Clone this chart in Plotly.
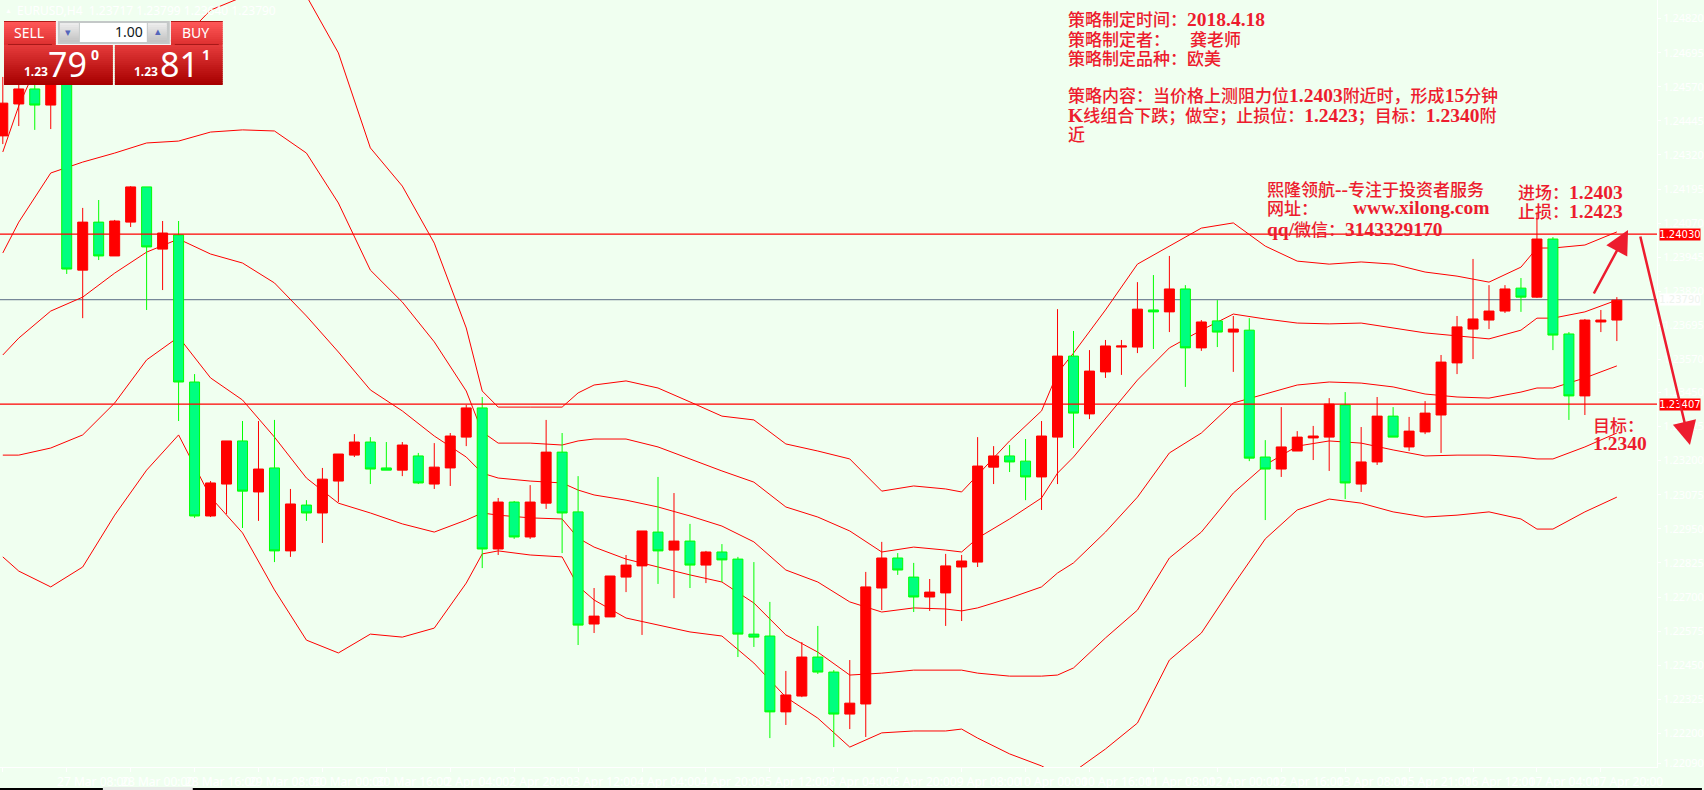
import re
import plotly.graph_objects as go

OPEN = [1.24390,1.24507,1.24562,1.24503,1.24595,1.23898,1.24074,1.23950,1.24074,1.24203,1.23975,1.24027,1.23488,1.22997,1.23114,1.23272,1.23085,1.23173,1.22869,1.23037,1.23008,1.23125,1.23220,1.23268,1.23173,1.23165,1.23217,1.23114,1.23173,1.23286,1.23393,1.22876,1.23048,1.22920,1.23044,1.23231,1.23012,1.22601,1.22627,1.22773,1.22814,1.22938,1.22872,1.22905,1.22817,1.22865,1.22839,1.22564,1.22557,1.22279,1.22337,1.22480,1.22425,1.22271,1.22308,1.22733,1.22843,1.22773,1.22700,1.22715,1.22810,1.22828,1.23176,1.23217,1.23198,1.23140,1.23286,1.23583,1.23371,1.23525,1.23616,1.23616,1.23752,1.23745,1.23829,1.23613,1.23712,1.23671,1.23678,1.23213,1.23169,1.23235,1.23283,1.23286,1.23404,1.23114,1.23195,1.23363,1.23250,1.23305,1.23367,1.23558,1.23682,1.23715,1.23748,1.23832,1.23799,1.24012,1.23664,1.23437,1.23708,1.23715]
HIGH = [1.24606,1.24624,1.24595,1.24609,1.24620,1.24126,1.24155,1.24082,1.24206,1.24203,1.24078,1.24078,1.23517,1.23125,1.23272,1.23345,1.23345,1.23349,1.23096,1.23055,1.23173,1.23224,1.23297,1.23286,1.23268,1.23268,1.23228,1.23264,1.23301,1.23404,1.23433,1.23063,1.23052,1.23110,1.23349,1.23301,1.23143,1.22733,1.22777,1.22854,1.22942,1.23140,1.23081,1.22968,1.22869,1.22894,1.22847,1.22828,1.22682,1.22429,1.22535,1.22594,1.22432,1.22469,1.22792,1.22902,1.22861,1.22825,1.22766,1.22858,1.22854,1.23286,1.23253,1.23257,1.23279,1.23345,1.23755,1.23675,1.23605,1.23642,1.23642,1.23854,1.23880,1.23950,1.23843,1.23715,1.23788,1.23730,1.23722,1.23275,1.23396,1.23308,1.23327,1.23429,1.23451,1.23323,1.23433,1.23396,1.23360,1.23418,1.23587,1.23730,1.23939,1.23843,1.23843,1.23869,1.24107,1.24019,1.23671,1.23719,1.23752,1.23799]
LOW = [1.24360,1.24426,1.24412,1.24415,1.23884,1.23722,1.23935,1.23950,1.24056,1.23752,1.23825,1.23345,1.22990,1.22993,1.23004,1.22953,1.22979,1.22828,1.22847,1.22979,1.22898,1.23048,1.23213,1.23114,1.23165,1.23143,1.23114,1.23096,1.23107,1.23253,1.22806,1.22854,1.22913,1.22913,1.23023,1.22861,1.22524,1.22568,1.22627,1.22718,1.22561,1.22748,1.22696,1.22733,1.22751,1.22755,1.22480,1.22517,1.22183,1.22231,1.22333,1.22418,1.22150,1.22216,1.22187,1.22652,1.22781,1.22645,1.22649,1.22594,1.22612,1.22810,1.23114,1.23158,1.23055,1.23019,1.23114,1.23246,1.23352,1.23503,1.23514,1.23594,1.23609,1.23671,1.23470,1.23602,1.23616,1.23525,1.23198,1.22982,1.23140,1.23235,1.23202,1.23162,1.23059,1.23085,1.23184,1.23286,1.23235,1.23297,1.23228,1.23517,1.23572,1.23682,1.23741,1.23745,1.23796,1.23605,1.23349,1.23367,1.23671,1.23638]
CLOSE = [1.24510,1.24562,1.24503,1.24595,1.23902,1.24074,1.23950,1.24078,1.24203,1.23983,1.24034,1.23488,1.22997,1.23118,1.23272,1.23088,1.23169,1.22869,1.23041,1.23008,1.23132,1.23224,1.23268,1.23169,1.23165,1.23257,1.23118,1.23176,1.23290,1.23393,1.22876,1.23048,1.22920,1.23048,1.23231,1.23008,1.22597,1.22630,1.22777,1.22817,1.22942,1.22869,1.22905,1.22817,1.22865,1.22836,1.22564,1.22553,1.22279,1.22341,1.22480,1.22425,1.22271,1.22311,1.22737,1.22843,1.22799,1.22700,1.22718,1.22814,1.22832,1.23180,1.23217,1.23195,1.23140,1.23290,1.23583,1.23374,1.23528,1.23620,1.23620,1.23755,1.23745,1.23829,1.23613,1.23708,1.23671,1.23682,1.23209,1.23169,1.23250,1.23286,1.23290,1.23407,1.23118,1.23195,1.23363,1.23286,1.23308,1.23374,1.23561,1.23690,1.23719,1.23748,1.23829,1.23799,1.24012,1.23660,1.23437,1.23715,1.23715,1.23788]

BAND_IDX = [0,1,3,5,7,9,11,13,15,17,19,21,23,25,27,29,30,31,33,35,36,37,39,41,43,45,47,49,51,53,55,57,59,60,61,63,65,66,67,69,71,73,75,77,79,81,83,85,87,89,91,93,95,96,97,99,101]
BAND_A = [1.24331,1.24500,1.24760,1.24789,1.24767,1.24763,1.24730,1.24851,1.24899,1.24965,1.24903,1.24694,1.24346,1.24206,1.23997,1.23686,1.23455,1.23396,1.23396,1.23396,1.23448,1.23477,1.23492,1.23466,1.23415,1.23363,1.23349,1.23261,1.23235,1.23206,1.23088,1.23107,1.23096,1.23085,1.23147,1.23272,1.23382,1.23521,1.23594,1.23752,1.23920,1.23986,1.24052,1.24071,1.23986,1.23931,1.23920,1.23928,1.23920,1.23891,1.23876,1.23854,1.23909,1.23979,1.23979,1.23990,1.24038]
BAND_B = [1.23961,1.24074,1.24254,1.24294,1.24327,1.24364,1.24371,1.24404,1.24412,1.24408,1.24327,1.24144,1.23898,1.23781,1.23635,1.23455,1.23305,1.23264,1.23264,1.23257,1.23272,1.23279,1.23279,1.23250,1.23206,1.23162,1.23121,1.23030,1.22993,1.22942,1.22865,1.22883,1.22872,1.22865,1.22916,1.22986,1.23063,1.23154,1.23213,1.23356,1.23495,1.23613,1.23678,1.23737,1.23719,1.23704,1.23701,1.23704,1.23686,1.23668,1.23657,1.23646,1.23678,1.23722,1.23722,1.23745,1.23788]
BAND_M = [1.23587,1.23649,1.23748,1.23799,1.23887,1.23964,1.24012,1.23957,1.23924,1.23851,1.23730,1.23598,1.23459,1.23382,1.23290,1.23213,1.23154,1.23136,1.23125,1.23118,1.23092,1.23074,1.23055,1.23030,1.22997,1.22960,1.22902,1.22799,1.22755,1.22682,1.22645,1.22660,1.22656,1.22649,1.22660,1.22696,1.22737,1.22788,1.22825,1.22938,1.23066,1.23228,1.23301,1.23411,1.23444,1.23477,1.23488,1.23484,1.23470,1.23444,1.23433,1.23429,1.23451,1.23466,1.23466,1.23503,1.23547]
BAND_D = [1.23220,1.23220,1.23246,1.23294,1.23411,1.23569,1.23653,1.23503,1.23422,1.23286,1.23136,1.23044,1.23008,1.22968,1.22938,1.22982,1.23008,1.23000,1.22990,1.22986,1.22916,1.22883,1.22839,1.22810,1.22781,1.22755,1.22678,1.22561,1.22498,1.22414,1.22421,1.22432,1.22432,1.22432,1.22421,1.22410,1.22410,1.22414,1.22440,1.22550,1.22652,1.22843,1.22938,1.23081,1.23184,1.23253,1.23272,1.23264,1.23239,1.23217,1.23220,1.23220,1.23213,1.23206,1.23206,1.23250,1.23301]
BAND_E = [1.22847,1.22795,1.22737,1.22810,1.23000,1.23165,1.23294,1.23066,1.22935,1.22726,1.22542,1.22495,1.22564,1.22553,1.22586,1.22751,1.22858,1.22869,1.22854,1.22847,1.22740,1.22689,1.22623,1.22597,1.22572,1.22557,1.22458,1.22333,1.22256,1.22150,1.22202,1.22209,1.22209,1.22216,1.22183,1.22125,1.22081,1.22048,1.22059,1.22143,1.22238,1.22469,1.22568,1.22744,1.22913,1.23019,1.23059,1.23044,1.23012,1.22993,1.23000,1.23012,1.22986,1.22949,1.22949,1.23012,1.23066]

X_TICKS = list(range(0, 102, 4))
X_LABELS = ["26 Mar 2018","27 Mar 08:00","28 Mar 00:00","28 Mar 16:00","29 Mar 08:00","30 Mar 00:00","30 Mar 16:00","2 Apr 04:00","2 Apr 20:00","3 Apr 12:00","4 Apr 04:00","4 Apr 20:00","5 Apr 12:00","6 Apr 04:00","6 Apr 20:00","9 Apr 08:00","10 Apr 00:00","10 Apr 16:00","11 Apr 08:00","12 Apr 00:00","12 Apr 16:00","13 Apr 08:00","15 Apr 21:00","16 Apr 12:00","17 Apr 04:00","17 Apr 20:00"]
Y_TICKS = [1.24820,1.24695,1.24570,1.24445,1.24320,1.24195,1.24070,1.23945,1.23820,1.23695,1.23570,1.23450,1.23325,1.23200,1.23075,1.22950,1.22825,1.22700,1.22575,1.22450,1.22325,1.22200,1.22090]
LEVEL_RES = 1.24030
LEVEL_SUP = 1.23407
LEVEL_BID = 1.23790

BG = "#f0fff0"
TXT = "#ed1c2e"
W, H = 1704, 790
PW, PH = 1659, 767
YR = [1.22077, 1.24888]
XR = [-2.8 / 16, (PW - 2.8) / 16]


def px(x):
    return x / PW


def py(y):
    return 1 - y / PH


fig = go.Figure()
for vals in (BAND_A, BAND_B, BAND_M, BAND_D, BAND_E):
    fig.add_trace(go.Scatter(x=BAND_IDX, y=vals, mode="lines", hoverinfo="skip",
                             line=dict(color="#ff0000", width=1), showlegend=False))
fig.add_trace(go.Candlestick(
    x=list(range(len(OPEN))), open=OPEN, high=HIGH, low=LOW, close=CLOSE,
    xaxis="x2", yaxis="y2", showlegend=False, whiskerwidth=0,
    increasing=dict(line=dict(color="#ff0000", width=1), fillcolor="#ff0000"),
    decreasing=dict(line=dict(color="#00ff00", width=1), fillcolor="#00ff7f"),
))

shapes = []
notes = []


def rect(x0, y0, x1, y1, color):
    shapes.append(dict(type="rect", xref="paper", yref="paper", layer="above",
                       x0=px(x0), x1=px(x1), y0=py(y0), y1=py(y1),
                       fillcolor=color, line=dict(width=0)))


def grad(x0, y0, x1, y1, c0, c1, n):
    for k in range(n):
        t = k / max(n - 1, 1)
        c = tuple(round(c0[j] + (c1[j] - c0[j]) * t) for j in range(3))
        a = y0 + (y1 - y0) * k / n
        b = y0 + (y1 - y0) * (k + 1) / n
        rect(x0, a, x1, min(b + 0.7, y1), "rgb(%d,%d,%d)" % c)


def label(x, y, text, size, color, family="Noto Sans", anchor="left", weight=None):
    f = dict(size=size, color=color, family=family)
    if weight:
        f["weight"] = weight
    notes.append(dict(xref="paper", yref="paper", x=px(x), y=py(y), text=text, showarrow=False,
                      xanchor=anchor, yanchor="middle", font=f, borderpad=0, align=anchor))


def mix(s, latin=19.5):
    span = '<span style="font-family:Liberation Serif;font-size:%spx;font-weight:bold">%%s</span>' % latin
    return re.sub(r"[0-9A-Za-z./\-]+", lambda m: span % m.group(0), s)


def cn(x, y, s, latin=19.5, size=17):
    label(x, y, mix(s, latin), size, TXT, family="Noto Sans CJK SC", weight=500)


# horizontal levels
for lv in (LEVEL_RES, LEVEL_SUP):
    shapes.append(dict(type="line", xref="paper", yref="y", x0=0, x1=1, y0=lv, y1=lv,
                       layer="above", line=dict(color="#ff0000", width=1.2)))
shapes.append(dict(type="line", xref="paper", yref="y", x0=0, x1=1, y0=LEVEL_BID, y1=LEVEL_BID,
                   layer="below", line=dict(color="#778899", width=1.2)))

# trade panel
grad(4, 21, 56, 45, (255, 88, 88), (222, 48, 48), 12)
grad(171, 21, 223, 45, (255, 88, 88), (222, 48, 48), 12)
rect(4, 21, 56, 22, "#b01818")
rect(171, 21, 223, 22, "#b01818")
rect(8, 44, 52, 45, "#a81818")
rect(175, 44, 219, 45, "#a81818")
grad(4, 45, 113, 85, (228, 58, 58), (168, 0, 0), 20)
grad(115, 45, 223, 85, (228, 58, 58), (168, 0, 0), 20)
rect(56, 21, 171, 45, "#f4f4f4")
rect(58, 21, 170, 44, "#c4c8c8")
rect(80, 23, 147, 42, "#ffffff")
grad(60, 23, 79, 42, (236, 236, 236), (196, 196, 196), 9)
grad(148, 23, 167, 42, (236, 236, 236), (196, 196, 196), 9)
label(29, 32.5, "SELL", 14, "#ffffff", anchor="center")
label(196, 32.5, "BUY", 14, "#ffffff", anchor="center")
label(144, 32, "1.00", 14, "#101820", anchor="right")
label(68.5, 32, "▾", 11, "#5566bb", anchor="center")
label(158, 31, "▴", 11, "#5566bb", anchor="center")
label(36, 71, "1.23", 12, "#ffffff", anchor="center", weight=700)
label(68, 64, "79", 34, "#ffffff", anchor="center")
label(95, 55, "0", 14, "#ffffff", anchor="center", weight=700)
label(146, 71, "1.23", 12, "#ffffff", anchor="center", weight=700)
label(180, 64, "81", 34, "#ffffff", anchor="center")
label(206, 55, "1", 14, "#ffffff", anchor="center", weight=700)
label(4, 10, "▲", 7, "#ffffff")
label(16, 10, "EURUSD,H4  1.23717 1.23799 1.23640 1.23790", 12, "#ffffff")

# scroll strip
rect(0, 788, W, 790, "#000000")
rect(103, 787, 193, 790, "#e8ebe8")

# strategy text
cn(1068, 18.5, "策略制定时间：2018.4.18")
cn(1068, 38, "策略制定者：")
cn(1190, 38, "龚老师")
cn(1068, 57, "策略制定品种：欧美")
cn(1068, 94, "策略内容：当价格上测阻力位1.2403附近时，形成15分钟")
cn(1068, 114, "K线组合下跌；做空；止损位：1.2423；目标：1.2340附")
cn(1068, 133, "近")
cn(1268, 189, "熙隆领航--专注于投资者服务")
cn(1268, 208, "网址：")
cn(1354, 208, "www.xilong.com")
cn(1268, 228, "qq/微信：3143329170")
cn(1519, 192, "进场：1.2403")
cn(1519, 210, "止损：1.2423")
cn(1594, 425, "目标：")
cn(1594, 444, "1.2340")

# right tags
for lv, bg, fc in ((LEVEL_RES, "#ff0000", "#ffffff"), (LEVEL_SUP, "#ff0000", "#ffffff"), (LEVEL_BID, "#ffffff", "#eef4ee")):
    notes.append(dict(xref="paper", yref="y", x=px(1682), y=lv, text="%.5f" % lv, showarrow=False,
                      xanchor="center", yanchor="middle", bgcolor=bg, width=40, height=11, borderpad=0,
                      font=dict(size=10, color=fc, family="DejaVu Sans")))

# trade arrows
for tip, tail in (((1630, 230), (1595, 295)), ((1692, 445), (1642, 235))):
    notes.append(dict(xref="paper", yref="paper", x=px(tip[0]), y=py(tip[1]), text="", showarrow=True,
                      ax=tail[0] - tip[0], ay=tail[1] - tip[1], arrowhead=2, arrowsize=1.9, arrowwidth=2.5,
                      arrowcolor="#ed1c2e", standoff=0, startstandoff=0))

fig.update_layout(
    width=W, height=H, autosize=False, margin=dict(l=0, r=W - PW, t=0, b=H - PH),
    paper_bgcolor=BG, plot_bgcolor=BG, showlegend=False, boxgap=0.375, boxgroupgap=0, hovermode=False,
    shapes=shapes, annotations=notes,
    xaxis=dict(range=XR, rangeslider=dict(visible=False), tickmode="array", tickvals=X_TICKS, ticktext=X_LABELS,
               ticks="outside", ticklen=4, tickcolor="#ffffff", tickwidth=1, showgrid=False, zeroline=False,
               showline=True, linecolor="#ffffff", linewidth=1, ticklabelshift=27, tickangle=0,
               tickfont=dict(size=12, color="#ffffff", family="Noto Sans")),
    yaxis=dict(range=YR, side="right", tickmode="array", tickvals=Y_TICKS, tickformat=".5f",
               ticks="outside", ticklen=3, tickcolor="#ffffff", showgrid=False, zeroline=False,
               showline=True, linecolor="#ffffff", linewidth=1,
               tickfont=dict(size=11, color="#ffffff", family="Noto Sans")),
    xaxis2=dict(range=XR, overlaying="x", visible=False, rangeslider=dict(visible=False)),
    yaxis2=dict(range=YR, overlaying="y", visible=False),
)

fig.write_html("out.html", config={"displayModeBar": False},
               post_script="document.body.style.margin='0';document.body.style.background='#f0fff0';document.body.style.overflow='hidden';")
